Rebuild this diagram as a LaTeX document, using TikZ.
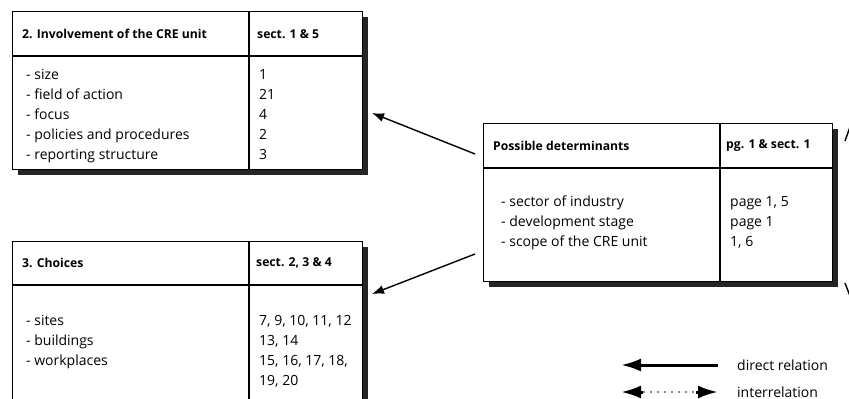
\documentclass[tikz,border=0pt]{standalone}
\usepackage{fontspec}
\setmainfont{Open Sans}
\usetikzlibrary{arrows.meta}
\begin{document}
\begin{tikzpicture}[x=1pt,y=-1pt,
  box/.style={draw,line width=1.1pt,fill=white,inner sep=0pt,anchor=north west},
  shade/.style={fill=black!85},
  sep/.style={line width=1.1pt},
  hd/.style={anchor=west,inner sep=0pt,font=\bfseries\fontsize{12.2}{14}\selectfont},
  txt/.style={anchor=base west,inner sep=0pt,font=\fontsize{14}{16}\selectfont},
  rel/.style={-{Latex[length=12pt,width=9pt]},line width=1.4pt},
  bigtip/.style={-{Latex[length=20pt,width=13pt]},line width=3pt}
]
\useasboundingbox (0,0) rectangle (849,399);
\clip (0,0) rectangle (849,399);

% ---------- Box 2 ----------
\fill[shade] (18,17) rectangle (368,175);
\node[box,minimum width=350pt,minimum height=158pt] (b2) at (12,11) {};
\draw[sep] (12,56) -- (362,56);
\draw[sep] (249,11) -- (249,169);
\node[hd] (b2h) at (22,34) {2. Involvement of the CRE unit};
\node[hd] (b2s) at (257,34) {sect. 1 \& 5};
\node[txt] (b2r1) at (26,79) {- size};
\node[txt] (b2r2) at (26,99) {- field of action};
\node[txt] (b2r3) at (26,119) {- focus};
\node[txt] (b2r4) at (26,139) {- policies and procedures};
\node[txt] (b2r5) at (26,159) {- reporting structure};
\node[txt] (b2n1) at (259,79) {1};
\node[txt] (b2n2) at (259,99) {21};
\node[txt] (b2n3) at (259,119) {4};
\node[txt] (b2n4) at (259,139) {2};
\node[txt] (b2n5) at (259,159) {3};

% ---------- Box 3 ----------
\fill[shade] (18,247) rectangle (368,410);
\node[box,minimum width=350pt,minimum height=165pt] (b3) at (12,241) {};
\draw[sep] (12,285) -- (362,285);
\draw[sep] (249,241) -- (249,410);
\node[hd] (b3h) at (22,263) {3. Choices};
\node[hd] (b3s) at (256,263) {sect. 2, 3 \& 4};
\node[txt] (b3r1) at (26,325) {- sites};
\node[txt] (b3r2) at (26,345) {- buildings};
\node[txt] (b3r3) at (26,365) {- workplaces};
\node[txt] (b3n1) at (259,325) {7, 9, 10, 11, 12};
\node[txt] (b3n2) at (259,345) {13, 14};
\node[txt] (b3n3) at (259,365) {15, 16, 17, 18,};
\node[txt] (b3n4) at (259,385) {19, 20};

% ---------- Box P ----------
\fill[shade] (489,129) rectangle (838,287);
\node[box,minimum width=349pt,minimum height=158pt] (bp) at (483,123) {};
\draw[sep] (483,168) -- (832,168);
\draw[sep] (720,123) -- (720,281);
\node[hd] (bph) at (493,146) {Possible determinants};
\node[hd] (bps) at (726,146) {pg. 1 \& sect. 1};
\node[txt] (bpr1) at (501,206) {- sector of industry};
\node[txt] (bpr2) at (501,226) {- development stage};
\node[txt] (bpr3) at (501,246) {- scope of the CRE unit};
\node[txt] (bpn1) at (730,206) {page 1, 5};
\node[txt] (bpn2) at (730,226) {page 1};
\node[txt] (bpn3) at (730,246) {1, 6};

% ---------- connectors ----------
\coordinate (a1s) at (475,154);
\coordinate (a1e) at (372,113);
\coordinate (a2s) at (475,254);
\coordinate (a2e) at (372,294);
\draw[rel] (a1s) -- (a1e);
\draw[rel] (a2s) -- (a2e);

% cut-off marks at the right edge
\coordinate (m1a) at (845,141);
\coordinate (m1b) at (850,127);
\coordinate (m2a) at (845,283);
\coordinate (m2b) at (850,296);
\draw[line width=1.4pt] (m1a) -- (m1b);
\draw[line width=1.4pt] (m2a) -- (m2b);

% ---------- legend ----------
\coordinate (l1r) at (718,365);
\coordinate (l1l) at (621,365);
\draw[bigtip] (l1r) -- (l1l);
\node[txt,anchor=west] (lt1) at (737,365) {direct relation};

\coordinate (l2l) at (621,392);
\coordinate (l2lm) at (643,392);
\coordinate (l2r) at (718,392);
\coordinate (l2rm) at (696,392);
\draw[bigtip] (l2lm) -- (l2l);
\draw[bigtip] (l2rm) -- (l2r);
\draw[black!45,line width=1.2pt,dash pattern=on 2pt off 5pt] (l2lm) -- (l2rm);
\node[txt,anchor=west] (lt2) at (737,392) {interrelation};
\end{tikzpicture}
\end{document}
